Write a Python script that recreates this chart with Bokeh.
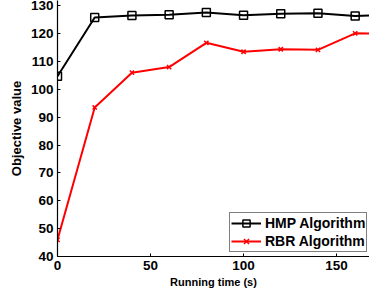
from bokeh.plotting import figure
from bokeh.embed import file_html
from bokeh.resources import INLINE
from bokeh.models import Range1d, FixedTicker, Legend, LegendItem

time_s = [0, 20, 40, 60, 80, 100, 120, 140, 160, 180]
hmp = [104.7, 125.8, 126.5, 126.8, 127.6, 126.6, 127.1, 127.3, 126.3, 126.8]
rbr = [46.0, 93.5, 106.0, 108.0, 116.7, 113.5, 114.4, 114.2, 120.1, 120.0]
x_ticks = [0, 50, 100, 150]
y_ticks = [40, 50, 60, 70, 80, 90, 100, 110, 120, 130]

FONT = "Liberation Sans"

p = figure(width=369, height=291, output_backend="svg", toolbar_location=None,
           x_range=Range1d(0, 167.7), y_range=Range1d(40, 131.9))
p.min_border_left = 57
p.min_border_right = 0
p.min_border_top = 0
p.min_border_bottom = 35
p.outline_line_color = None
p.grid.visible = False
p.background_fill_color = "white"
p.border_fill_color = "white"

for ax in (p.xaxis[0], p.yaxis[0]):
    ax.major_label_text_font = FONT
    ax.major_label_text_font_style = "bold"
    ax.major_label_text_font_size = "13.5px"
    ax.major_label_text_color = "black"
    ax.axis_label_text_font = FONT
    ax.axis_label_text_font_style = "bold"
    ax.axis_label_text_color = "black"
    ax.axis_line_color = "black"
    ax.axis_line_width = 1.2
    ax.major_tick_in = 3
    ax.major_tick_out = 0
    ax.minor_tick_line_color = None
    ax.major_tick_line_color = "black"
    ax.major_label_standoff = 4

p.xaxis[0].ticker = FixedTicker(ticks=x_ticks)
p.yaxis[0].ticker = FixedTicker(ticks=y_ticks)
p.xaxis[0].axis_label = "Running time (s)"
p.yaxis[0].axis_label = "Objective value"
p.xaxis[0].axis_label_text_font_size = "11px"
p.yaxis[0].axis_label_text_font_size = "13px"
p.xaxis[0].axis_label_standoff = 3
p.yaxis[0].axis_label_standoff = 4

l1 = p.line(time_s, hmp, line_color="black", line_width=2)
m1 = p.scatter(time_s, hmp, marker="square", size=8, line_color="black",
               line_width=1.5, fill_color=None)
l2 = p.line(time_s, rbr, line_color="red", line_width=2)
m2 = p.scatter(time_s, rbr, marker="x", size=6, line_color="red", line_width=1.5)

legend = Legend(items=[LegendItem(label="HMP Algorithm", renderers=[l1, m1]),
                       LegendItem(label="RBR Algorithm", renderers=[l2, m2])],
                location=(172, 4))
legend.label_text_font = FONT
legend.label_text_font_style = "bold"
legend.label_text_font_size = "14px"
legend.label_text_color = "black"
legend.border_line_color = "black"
legend.border_line_width = 1
legend.background_fill_color = "white"
legend.background_fill_alpha = 1
legend.padding = 1
legend.spacing = 0
legend.margin = 0
legend.glyph_width = 30
legend.glyph_height = 18
legend.label_height = 18
legend.label_standoff = 4
p.add_layout(legend, "center")

open("out.html", "w").write(file_html(p, INLINE))
